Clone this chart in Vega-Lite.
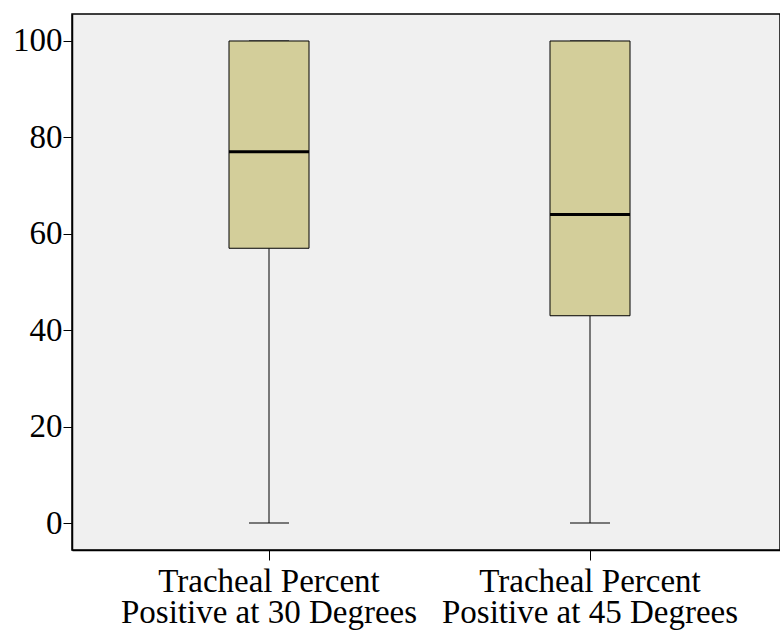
{
  "$schema": "https://vega.github.io/schema/vega-lite/v6.json",
  "width": 708,
  "height": 536,
  "autosize": {"type": "none"},
  "padding": {"left": 72, "top": 14, "right": 0, "bottom": 81},
  "background": "white",
  "config": {
    "font": "Liberation Serif",
    "view": {"fill": "#f0f0f0", "stroke": "#000000", "strokeWidth": 1.5}
  },
  "data": {
    "values": [
      {"group": "Tracheal Percent Positive at 30 Degrees", "lower": 0, "q1": 57, "median": 77, "q3": 100, "upper": 100},
      {"group": "Tracheal Percent Positive at 45 Degrees", "lower": 0, "q1": 43, "median": 64, "q3": 100, "upper": 100}
    ]
  },
  "encoding": {
    "x": {
      "field": "group",
      "type": "nominal",
      "sort": null,
      "scale": {"paddingInner": 0.5, "paddingOuter": 0.3528, "align": 0.5155},
      "axis": {
        "title": null,
        "labelAngle": 0,
        "labelFont": "Liberation Serif",
        "labelFontSize": 33,
        "labelColor": "#000000",
        "labelLimit": 0,
        "labelPadding": 5,
        "labelBaseline": "top",
        "labelLineHeight": 31,
        "labelOverlap": false,
        "labelExpr": "['Tracheal Percent', replace(datum.value, 'Tracheal Percent ', '')]",
        "tickSize": 10,
        "tickColor": "#000000",
        "tickWidth": 1,
        "domainColor": "#000000",
        "domainWidth": 1.5
      }
    }
  },
  "layer": [
    {
      "mark": {"type": "rule", "color": "#000000", "strokeWidth": 1},
      "encoding": {
        "y": {
          "field": "lower",
          "type": "quantitative",
          "scale": {"domain": [-5.6, 105.6], "nice": false, "zero": false},
          "axis": {
            "title": null,
            "values": [0, 20, 40, 60, 80, 100],
            "grid": false,
            "labelFont": "Liberation Serif",
            "labelFontSize": 33,
            "labelColor": "#000000",
            "labelPadding": 1,
            "tickSize": 9,
            "tickColor": "#000000",
            "tickWidth": 1,
            "domainColor": "#000000",
            "domainWidth": 1.5
          }
        },
        "y2": {"field": "q1"}
      }
    },
    {
      "mark": {"type": "rule", "color": "#000000", "strokeWidth": 1},
      "encoding": {
        "y": {"field": "q3", "type": "quantitative"},
        "y2": {"field": "upper"}
      }
    },
    {
      "mark": {"type": "tick", "size": 40, "thickness": 1, "color": "#000000", "opacity": 1},
      "encoding": {"y": {"field": "lower", "type": "quantitative"}}
    },
    {
      "mark": {"type": "tick", "size": 40, "thickness": 1, "color": "#000000", "opacity": 1},
      "encoding": {"y": {"field": "upper", "type": "quantitative"}}
    },
    {
      "mark": {"type": "bar", "size": 80, "fill": "#d3ce9a", "stroke": "#000000", "strokeWidth": 1, "opacity": 1},
      "encoding": {
        "y": {"field": "q1", "type": "quantitative"},
        "y2": {"field": "q3"}
      }
    },
    {
      "mark": {"type": "tick", "size": 80, "thickness": 3, "color": "#000000", "opacity": 1},
      "encoding": {"y": {"field": "median", "type": "quantitative"}}
    }
  ]
}
